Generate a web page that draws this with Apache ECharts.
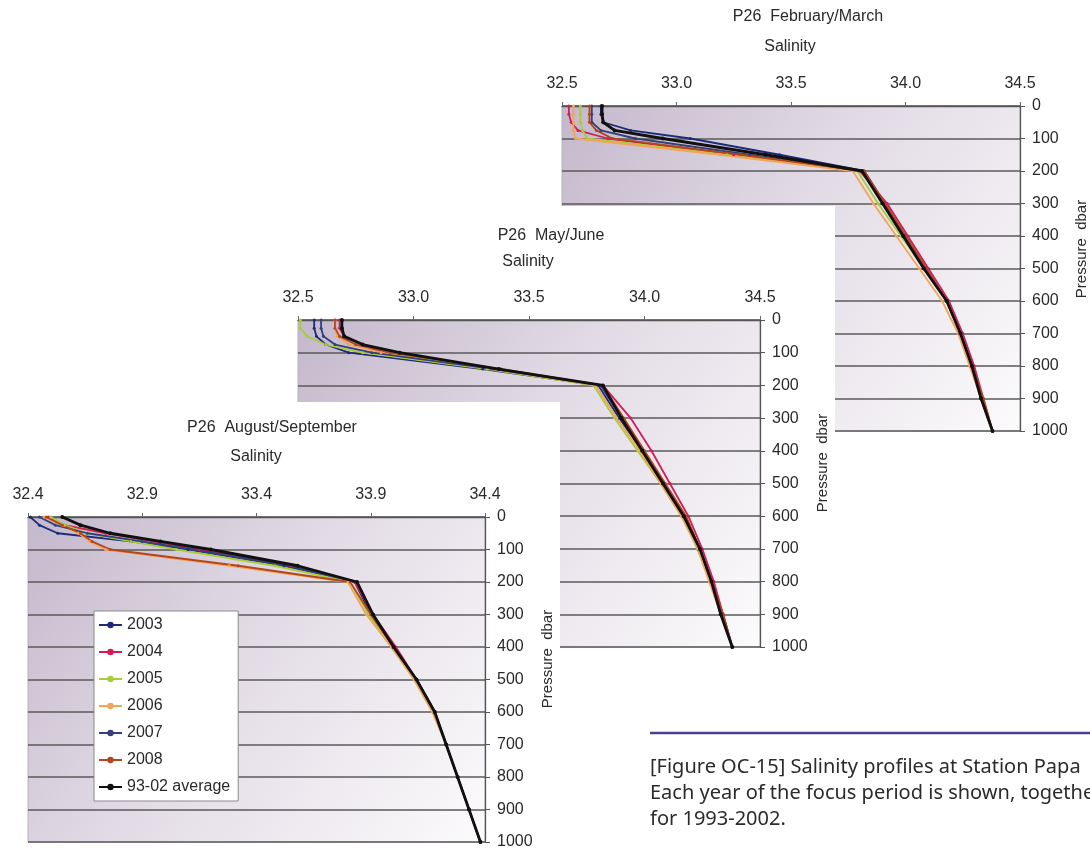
<!DOCTYPE html>
<html>
<head>
<meta charset="utf-8">
<script src="https://cdn.jsdelivr.net/npm/echarts@6/dist/echarts.min.js"></script>
<style>
  html, body { margin: 0; padding: 0; background: #ffffff; }
  #chart { width: 1090px; height: 850px; }
</style>
</head>
<body>
<div id="chart"></div>
<script>
// Sampling pressures (dbar) shared by every profile
const PRESSURE = [0, 25, 50, 75, 100, 150, 200, 300, 400, 500, 600, 700, 800, 900, 1000];

const SERIES_NAMES = ['2003', '2004', '2005', '2006', '2007', '2008', '93-02 average'];

// Salinity profiles, one row per entry of SERIES_NAMES, values at PRESSURE
const FEB_MAR = [
  [32.67, 32.67, 32.68, 32.80, 33.06, 33.45, 33.82, 33.91, 34.00, 34.09, 34.18, 34.24, 34.29, 34.33, 34.38],
  [32.53, 32.53, 32.54, 32.57, 32.70, 33.25, 33.80, 33.92, 34.01, 34.10, 34.19, 34.25, 34.30, 34.34, 34.38],
  [32.58, 32.58, 32.58, 32.59, 32.61, 33.22, 33.79, 33.88, 33.98, 34.08, 34.18, 34.24, 34.29, 34.33, 34.38],
  [32.55, 32.55, 32.55, 32.55, 32.56, 33.19, 33.77, 33.86, 33.96, 34.06, 34.16, 34.23, 34.28, 34.33, 34.38],
  [32.63, 32.63, 32.63, 32.67, 32.82, 33.32, 33.81, 33.90, 33.99, 34.08, 34.18, 34.24, 34.29, 34.33, 34.38],
  [32.62, 32.62, 32.62, 32.65, 32.72, 33.28, 33.82, 33.91, 34.00, 34.09, 34.18, 34.24, 34.29, 34.34, 34.38],
  [32.675, 32.675, 32.68, 32.73, 32.94, 33.39, 33.81, 33.90, 33.99, 34.08, 34.18, 34.24, 34.29, 34.33, 34.38]
];

const MAY_JUN = [
  [32.57, 32.57, 32.58, 32.62, 32.72, 33.30, 33.80, 33.89, 33.99, 34.08, 34.17, 34.23, 34.29, 34.34, 34.38],
  [32.68, 32.68, 32.70, 32.78, 32.86, 33.34, 33.82, 33.94, 34.03, 34.11, 34.19, 34.25, 34.30, 34.34, 34.38],
  [32.51, 32.51, 32.54, 32.62, 32.78, 33.32, 33.78, 33.87, 33.97, 34.07, 34.16, 34.23, 34.29, 34.33, 34.38],
  [32.66, 32.66, 32.67, 32.72, 32.86, 33.35, 33.79, 33.88, 33.98, 34.07, 34.16, 34.23, 34.28, 34.33, 34.38],
  [32.60, 32.60, 32.61, 32.66, 32.82, 33.35, 33.81, 33.90, 33.99, 34.08, 34.17, 34.24, 34.29, 34.33, 34.38],
  [32.66, 32.66, 32.68, 32.75, 32.90, 33.38, 33.82, 33.91, 34.00, 34.09, 34.18, 34.24, 34.29, 34.34, 34.38],
  [32.69, 32.69, 32.70, 32.78, 32.94, 33.37, 33.82, 33.90, 33.99, 34.08, 34.17, 34.24, 34.29, 34.33, 34.38]
];

const AUG_SEP = [
  [32.41, 32.45, 32.53, 32.85, 33.10, 33.52, 33.83, 33.90, 34.00, 34.10, 34.18, 34.23, 34.28, 34.33, 34.38],
  [32.49, 32.56, 32.74, 32.95, 33.15, 33.55, 33.83, 33.91, 34.01, 34.10, 34.18, 34.23, 34.28, 34.33, 34.38],
  [32.50, 32.56, 32.66, 32.85, 33.05, 33.48, 33.81, 33.89, 33.99, 34.09, 34.17, 34.23, 34.28, 34.33, 34.38],
  [32.47, 32.55, 32.62, 32.67, 32.74, 33.28, 33.80, 33.88, 33.99, 34.09, 34.17, 34.23, 34.28, 34.33, 34.38],
  [32.45, 32.52, 32.66, 32.90, 33.12, 33.54, 33.84, 33.91, 34.00, 34.10, 34.18, 34.23, 34.28, 34.33, 34.38],
  [32.48, 32.55, 32.63, 32.68, 32.76, 33.32, 33.81, 33.90, 34.00, 34.10, 34.18, 34.23, 34.28, 34.33, 34.38],
  [32.55, 32.63, 32.76, 32.98, 33.20, 33.58, 33.84, 33.91, 34.00, 34.10, 34.18, 34.23, 34.28, 34.33, 34.38]
];

// Salinity tick labels of each panel
const FEB_MAR_TICKS = [32.5, 33.0, 33.5, 34.0, 34.5];
const MAY_JUN_TICKS = [32.5, 33.0, 33.5, 34.0, 34.5];
const AUG_SEP_TICKS = [32.4, 32.9, 33.4, 33.9, 34.4];

const PANEL_TITLES = ['P26  February/March', 'P26  May/June', 'P26  August/September'];
const AXIS_TITLE_X = 'Salinity';
const AXIS_TITLE_Y = 'Pressure  dbar';

const CAPTION = [
  '[Figure OC-15] Salinity profiles at Station Papa',
  'Each year of the focus period is shown, together',
  'for 1993-2002.'
];

// ---- styling ----
const LINE_COLORS = ['#1d2a78', '#d41d55', '#a9cc3c', '#f2a55a', '#33407e', '#b3461e', '#111111'];
const TEXT_COLOR = '#2a2a2a';
const FONT = 'Liberation Sans, Arial, sans-serif';

const layouts = [
  { grid: { left: 562, top: 106, width: 458, height: 325 }, title: [808, 17], sal: [790, 47], pres: [1082, 249], z: 1 },
  { grid: { left: 298, top: 320, width: 462, height: 327 }, title: [551, 236], sal: [528, 262], pres: [823, 463], z: 11 },
  { grid: { left: 28,  top: 517, width: 457, height: 325 }, title: [272, 428], sal: [256, 457], pres: [548, 659], z: 21 }
];
const panelData = [FEB_MAR, MAY_JUN, AUG_SEP];
const panelTicks = [FEB_MAR_TICKS, MAY_JUN_TICKS, AUG_SEP_TICKS];

function plotBackground() {
  return new echarts.graphic.LinearGradient(0, 0, 1, 1, [
    { offset: 0, color: '#c4b8cc' },
    { offset: 0.45, color: '#e2dbe5' },
    { offset: 1, color: '#fcfbfc' }
  ]);
}

const grids = [], xAxes = [], yAxes = [], series = [], graphics = [];

layouts.forEach((L, i) => {
  const ticks = panelTicks[i];
  grids.push(Object.assign({
    show: true,
    backgroundColor: plotBackground(),
    borderColor: '#b5b2b8',
    borderWidth: 1,
    z: L.z
  }, L.grid));

  xAxes.push({
    type: 'value',
    gridIndex: i,
    position: 'top',
    min: ticks[0],
    max: ticks[ticks.length - 1],
    z: L.z + 1,
    axisLine: { show: true, lineStyle: { color: '#555', width: 1.3 } },
    axisTick: { show: true, length: 4, customValues: ticks, lineStyle: { color: '#666' } },
    axisLabel: {
      customValues: ticks,
      margin: 14,
      fontSize: 16,
      fontFamily: FONT,
      color: TEXT_COLOR,
      formatter: v => v.toFixed(1)
    },
    splitLine: { show: false }
  });

  yAxes.push({
    type: 'value',
    gridIndex: i,
    position: 'right',
    inverse: true,
    min: 0,
    max: 1000,
    interval: 100,
    z: L.z + 1,
    axisLine: { show: true, lineStyle: { color: '#555', width: 1.3 } },
    axisTick: { show: true, length: 5, lineStyle: { color: '#555' } },
    axisLabel: { margin: 12, fontSize: 16, fontFamily: FONT, color: TEXT_COLOR, formatter: v => String(v) },
    splitLine: { show: true, lineStyle: { color: '#5a5a5a', width: 1.6 } }
  });

  SERIES_NAMES.forEach((name, k) => {
    const sal = panelData[i][k];
    const isAvg = k === SERIES_NAMES.length - 1;
    series.push({
      name,
      type: 'line',
      xAxisIndex: i,
      yAxisIndex: i,
      data: PRESSURE.map((p, j) => [sal[j], p]),
      symbol: 'circle',
      symbolSize: isAvg ? 4 : 3,
      showSymbol: true,
      color: LINE_COLORS[k],
      lineStyle: { color: LINE_COLORS[k], width: isAvg ? 2.8 : 1.8 },
      itemStyle: { color: LINE_COLORS[k] },
      z: L.z + 2 + (isAvg ? 1 : 0),
      silent: true
    });
  });

  // panel titles and axis titles
  const txt = (text, pos, size, extra) => Object.assign({
    type: 'text',
    x: pos[0],
    y: pos[1],
    z: L.z + 3,
    silent: true,
    style: { text, fontSize: size, fontFamily: FONT, fill: TEXT_COLOR, align: 'center', verticalAlign: 'middle' }
  }, extra || {});
  graphics.push(txt(PANEL_TITLES[i], L.title, 16));
  graphics.push(txt(AXIS_TITLE_X, L.sal, 16));
  graphics.push(txt(AXIS_TITLE_Y, L.pres, 15, { rotation: Math.PI / 2 }));
});

// white chart areas of the later panels sit over the earlier ones
graphics.push({ type: 'rect', z: 10, silent: true, shape: { x: 0, y: 206, width: 835, height: 644 }, style: { fill: '#ffffff' } });
graphics.push({ type: 'rect', z: 20, silent: true, shape: { x: 0, y: 402, width: 560, height: 448 }, style: { fill: '#ffffff' } });

// caption block
graphics.push({ type: 'line', z: 40, silent: true, shape: { x1: 650, y1: 733, x2: 1090, y2: 733 }, style: { stroke: '#4a3e8d', lineWidth: 2.5 } });
CAPTION.forEach((line, n) => {
  graphics.push({
    type: 'text', z: 40, silent: true,
    x: 650, y: 767 + n * 26,
    style: { text: line, fontSize: 20, fontFamily: 'Noto Sans, DejaVu Sans, sans-serif', fill: '#2b2b2b', align: 'left', verticalAlign: 'middle' }
  });
});

const chart = echarts.init(document.getElementById('chart'), null, { renderer: 'canvas' });
chart.setOption({
  animation: false,
  backgroundColor: '#ffffff',
  grid: grids,
  xAxis: xAxes,
  yAxis: yAxes,
  series,
  legend: {
    orient: 'vertical',
    left: 94,
    top: 611,
    z: 30,
    data: SERIES_NAMES,
    itemWidth: 23,
    itemHeight: 8,
    itemGap: 11,
    padding: [6, 8, 6, 4],
    backgroundColor: '#ffffff',
    borderColor: '#8a8a8a',
    borderWidth: 1,
    selectedMode: false,
    textStyle: { fontSize: 16, fontFamily: FONT, color: TEXT_COLOR }
  },
  graphic: { elements: graphics }
});
</script>
</body>
</html>
